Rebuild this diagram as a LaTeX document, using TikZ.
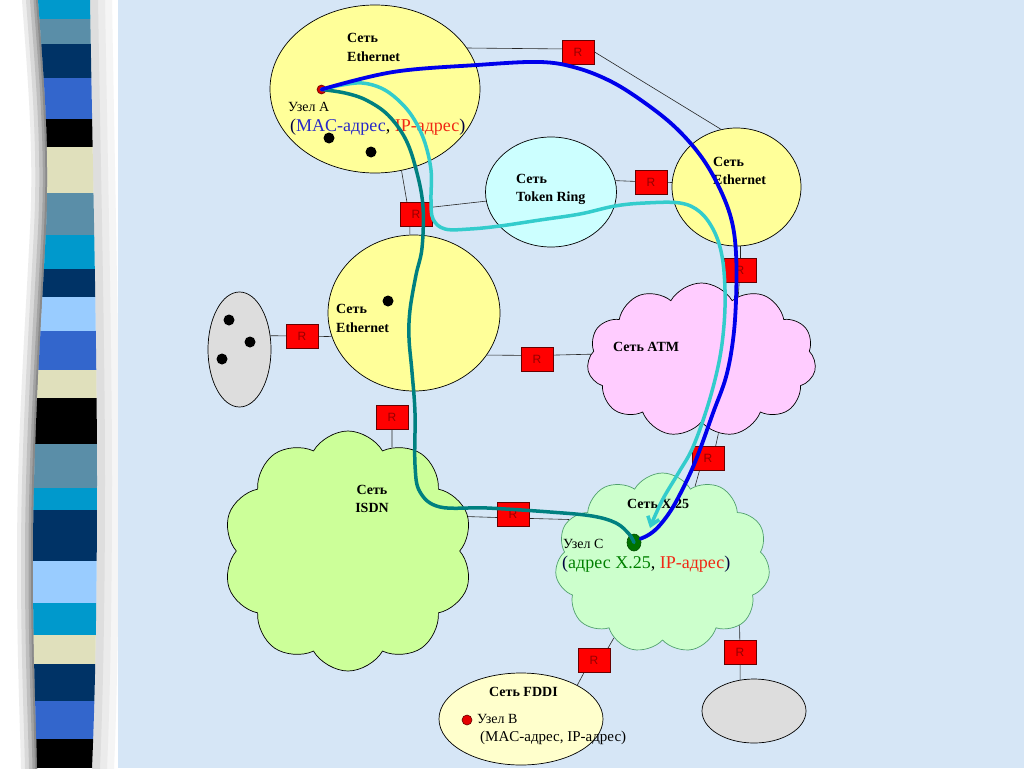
\documentclass[tikz,border=0pt]{standalone}
\usepackage{fontspec}
\setmainfont{Liberation Serif}
\newfontfamily\rsans{Liberation Sans}
\usetikzlibrary{shapes.geometric,shapes.symbols,arrows.meta}
\definecolor{bgblue}{RGB}{214,230,246}
\definecolor{ethyel}{RGB}{255,255,153}
\definecolor{trcyan}{RGB}{204,255,255}
\definecolor{atmpink}{RGB}{255,204,255}
\definecolor{isdngreen}{RGB}{204,255,153}
\definecolor{xgreen}{RGB}{204,255,204}
\definecolor{xedge}{RGB}{80,160,110}
\definecolor{fddiyel}{RGB}{255,255,204}
\definecolor{netgray}{RGB}{221,221,221}
\definecolor{sCyan}{RGB}{0,153,204}
\definecolor{sSteel}{RGB}{90,142,168}
\definecolor{sNavy}{RGB}{0,51,102}
\definecolor{sBlue}{RGB}{51,102,204}
\definecolor{sCream}{RGB}{224,224,188}
\definecolor{sLight}{RGB}{153,204,255}
\definecolor{pBlue}{RGB}{0,0,235}
\definecolor{pCyan}{RGB}{51,204,204}
\definecolor{pTeal}{RGB}{0,128,128}
\definecolor{macblue}{RGB}{40,40,200}
\definecolor{ipred}{RGB}{240,40,20}
\definecolor{x25green}{RGB}{0,128,0}
\definecolor{rtext}{RGB}{150,0,0}
\begin{document}
\begin{tikzpicture}[x=1pt,y=-1pt,
  net/.style={ellipse,draw=black,line width=0.7pt,inner sep=0pt},
  cloudnet/.style={cloud,cloud puffs=11,cloud puff arc=120,cloud ignores aspect,draw=black,line width=0.7pt,inner sep=0pt},
  rtr/.style={rectangle,draw=black!60!red,line width=0.6pt,fill=red,minimum width=32pt,minimum height=24pt,inner sep=0pt,font=\rsans\fontsize{12}{12}\selectfont,text=rtext},
  wire/.style={draw=black!85,line width=0.6pt},
  hostdot/.style={circle,fill=black,minimum size=11pt,inner sep=0pt},
  lbl/.style={anchor=base west,inner sep=0pt,font=\bfseries\fontsize{14}{16}\selectfont},
  txt/.style={anchor=base west,inner sep=0pt,font=\fontsize{14}{16}\selectfont},
  addr/.style={anchor=base west,inner sep=0pt,font=\fontsize{18}{20}\selectfont},
  route/.style={line width=3.5pt,line cap=round,line join=round}
]
\useasboundingbox (0,0) rectangle (1024,768);
% background
\fill[white] (0,0) rectangle (118,768);
% left shadow: strokes along the strip's left edge, clipped to the area left of it
\begin{scope}
  \clip (0,-5) -- (38,-5) -- (38,0) .. controls (44,80) and (50,150) .. (46,230) .. controls (41,330) and (33,440) .. (33,560) .. controls (33,660) and (36,720) .. (37,768) -- (37,773) -- (0,773) -- cycle;
  \draw[line width=32pt,color=black!7] (38,-20) -- (38,0) .. controls (44,80) and (50,150) .. (46,230) .. controls (41,330) and (33,440) .. (33,560) .. controls (33,660) and (36,720) .. (37,768) -- (37,790);
  \draw[line width=24pt,color=black!15] (38,-20) -- (38,0) .. controls (44,80) and (50,150) .. (46,230) .. controls (41,330) and (33,440) .. (33,560) .. controls (33,660) and (36,720) .. (37,768) -- (37,790);
  \draw[line width=16pt,color=black!25] (38,-20) -- (38,0) .. controls (44,80) and (50,150) .. (46,230) .. controls (41,330) and (33,440) .. (33,560) .. controls (33,660) and (36,720) .. (37,768) -- (37,790);
  \draw[line width=9pt,color=black!36] (38,-20) -- (38,0) .. controls (44,80) and (50,150) .. (46,230) .. controls (41,330) and (33,440) .. (33,560) .. controls (33,660) and (36,720) .. (37,768) -- (37,790);
  \draw[line width=4pt,color=black!46] (38,-20) -- (38,0) .. controls (44,80) and (50,150) .. (46,230) .. controls (41,330) and (33,440) .. (33,560) .. controls (33,660) and (36,720) .. (37,768) -- (37,790);
\end{scope}
% right shadow
\begin{scope}
  \clip (90,-5) -- (90,0) .. controls (93,180) and (97,350) .. (97,480) .. controls (97,600) and (95,700) .. (92,768) -- (92,773) -- (118,773) -- (118,-5) -- cycle;
  \draw[line width=44pt,color=black!4] (90,-20) -- (90,0) .. controls (93,180) and (97,350) .. (97,480) .. controls (97,600) and (95,700) .. (92,768) -- (92,790);
  \draw[line width=30pt,color=black!8] (90,-20) -- (90,0) .. controls (93,180) and (97,350) .. (97,480) .. controls (97,600) and (95,700) .. (92,768) -- (92,790);
  \draw[line width=16pt,color=black!13] (90,-20) -- (90,0) .. controls (93,180) and (97,350) .. (97,480) .. controls (97,600) and (95,700) .. (92,768) -- (92,790);
\end{scope}
\fill[bgblue] (118,0) rectangle (1024,768);
\begin{scope}
  \clip (38,0) .. controls (44,80) and (50,150) .. (46,230) .. controls (41,330) and (33,440) .. (33,560) .. controls (33,660) and (36,720) .. (37,768) -- (92,768) .. controls (95,700) and (97,600) .. (97,480) .. controls (97,350) and (93,180) .. (90,0) -- cycle;
  \foreach \a/\b/\c in {0/19/sCyan,19/44/sSteel,44/78/sNavy,78/119/sBlue,119/147/black,147/193/sCream,193/235/sSteel,235/269/sCyan,269/297/sNavy,297/331/sLight,331/370/sBlue,370/398/sCream,398/444/black,444/488/sSteel,488/510/sCyan,510/561/sNavy,561/603/sLight,603/635/sCyan,635/664/sCream,664/701/sNavy,701/739/sBlue,739/768/black}
    { \fill[\c] (0,\a) rectangle (120,\b); }
\end{scope}
% networks
\node[net,fill=ethyel,minimum width=210pt,minimum height=168pt] (eth1) at (375,89) {};
\node[net,fill=trcyan,minimum width=131pt,minimum height=110pt] (tr) at (551,192) {};
\node[net,fill=ethyel,minimum width=129pt,minimum height=118pt] (ethR) at (736.5,187) {};
\node[net,fill=ethyel,minimum width=172pt,minimum height=156pt] (ethM) at (414,313) {};
\node[net,fill=netgray,minimum width=63pt,minimum height=115pt] (gray1) at (239.5,349.5) {};
\node[cloudnet,fill=atmpink,minimum width=229pt,minimum height=154pt] (atm) at (701.5,360) {};
\node[cloudnet,fill=isdngreen,minimum width=250pt,minimum height=240pt,cloud puffs=10] (isdn) at (348,551) {};
\node[cloudnet,fill=xgreen,draw=xedge,minimum width=215pt,minimum height=180pt] (x25) at (662.5,563) {};
\node[net,fill=fddiyel,minimum width=164pt,minimum height=92pt] (fddi) at (521,719) {};
\node[net,fill=netgray,minimum width=104pt,minimum height=64pt] (gray2) at (754,711) {};
% router positions (used as wire ends)
\coordinate (r1) at (578,52);
\coordinate (r2) at (651,182);
\coordinate (r3) at (416,214);
\coordinate (r4) at (740,270);
\coordinate (r5) at (302,336);
\coordinate (r6) at (537,359.5);
\coordinate (r7) at (392,417);
\coordinate (r8) at (708,458);
\coordinate (r9) at (513,514);
\coordinate (r10) at (594,660);
\coordinate (r11) at (740,652);
% wires
\draw[wire] (eth1.24) -- ([shift={(-10,-3)}]r1);
\draw[wire] ([shift={(10,-4)}]r1) -- (ethR.105);
\draw[wire] (tr.10) -- (r2);
\draw[wire] (r2) -- (ethR.176);
\draw[wire] (eth1.-72) -- ([shift={(-7,0)}]r3);
\draw[wire] ([shift={(0,-5)}]r3) -- (tr.188);
\draw[wire] ([shift={(-6,0)}]r3) -- (ethM.93);
\draw[wire] (r4) -- (r4 |- ethR.south);
\draw[wire] (r4) -- (atm.60);
\draw[wire] (r5) -- (gray1.24);
\draw[wire] (r5) -- (ethM.196);
\draw[wire] ([shift={(0,-4)}]r6) -- (ethM.-30);
\draw[wire] ([shift={(0,-4)}]r6) -- (atm.177);
\draw[wire] (r7) -- (isdn.67);
\draw[wire] ([shift={(5,0)}]r8) -- (atm.-77);
\draw[wire] ([shift={(-5,0)}]r8) -- (x25.67);
\draw[wire] ([shift={(0,4)}]r9) -- (isdn.16);
\draw[wire] ([shift={(0,4)}]r9) -- (x25.155);
\draw[wire] ([shift={(10,-5)}]r10) -- (x25.237);
\draw[wire] ([shift={(-6,5)}]r10) -- (fddi.31);
\draw[wire] (r11) -- (x25.-39);
\draw[wire] (r11) -- (gray2.114);
% routers
\foreach \n in {r1,r2,r3,r4,r5,r6,r7,r8,r9,r10,r11}
  { \node[rtr] (\n box) at (\n) {R}; }
% host dots
\node[hostdot] (d1) at (329,138) {};
\node[hostdot] (d2) at (371,152) {};
\node[hostdot] (d3) at (388,301) {};
\node[hostdot] (d4) at (229,320) {};
\node[hostdot] (d5) at (250,342) {};
\node[hostdot] (d6) at (222,359) {};
% labels
\node[lbl] (t1a) at (347,43) {Сеть};
\node[lbl] (t1b) at (347,61) {Ethernet};
\node[txt] (tA) at (288,111) {Узел А};
\node[addr,text=black!75!blue] (tAaddr) at (290,131) {(\textcolor{macblue}{MAC-адрес}\textcolor{black}{,} \textcolor{ipred}{IP-адрес})};
\node[lbl] (t2a) at (516,183) {Сеть};
\node[lbl] (t2b) at (516,201) {Token Ring};
\node[lbl] (t3a) at (713,166) {Сеть};
\node[lbl] (t3b) at (713,184) {Ethernet};
\node[lbl] (t4a) at (336,313) {Сеть};
\node[lbl] (t4b) at (336,332) {Ethernet};
\node[lbl] (t5) at (613,351) {Сеть ATM};
\node[lbl,anchor=base] (t6a) at (372,494) {Сеть};
\node[lbl,anchor=base] (t6b) at (372,512) {ISDN};
\node[lbl] (t7) at (627,508) {Сеть X.25};
\node[txt] (tC) at (563,548) {Узел С};
\node[addr,text=black!75!blue] (tCaddr) at (562,568) {(\textcolor{x25green}{адрес X.25}\textcolor{black}{,} \textcolor{ipred}{IP-адрес})};
\node[lbl] (t8) at (489,696) {Сеть FDDI};
\node[txt] (tB) at (477,723) {Узел В};
\node[txt,font=\fontsize{15}{17}\selectfont] (tBaddr) at (480,741) {(MAC-адрес, IP-адрес)};
% hosts
\node[circle,fill=red!85!black,draw=red!40!black,line width=0.6pt,minimum size=9pt,inner sep=0pt] (nA) at (321.5,89.5) {};
\node[circle,fill=red!90!black,draw=red!40!black,line width=0.6pt,minimum size=10pt,inner sep=0pt] (nB) at (467,720) {};
\node[ellipse,fill=green!45!black,draw=black!70!green,line width=0.6pt,minimum width=14pt,minimum height=17pt,inner sep=0pt] (nC) at (634,542.5) {};
\coordinate (cend) at (650,528);
% routes
\draw[route,pTeal] plot[smooth,tension=0.6] coordinates {(nA.center) (345,93) (366,100) (388,115) (406,140) (417,173) (423,207) (422,248) (416,275) (410,310) (409,338) (412,372) (415,413) (415,465) (420,492) (440,507) (487,508) (550,512) (592,516) (616,523) (629,534) (nC.center)};
\draw[route,pCyan,-{Straight Barb[length=8pt,width=12pt]}] plot[smooth,tension=0.6] coordinates {(nA.center) (342,85) (362,83) (381,88) (397,99) (412,116) (424,140) (431,170) (431,200) (433,219) (445,229) (470,229) (500,226) (540,220) (580,214) (615,206) (645,203) (680,203) (700,212) (714,231) (722,256) (725,290) (724,325) (719,362) (708,405) (693,447) (679,472) (664,497) (654,518) (cend)};
\draw[route,pBlue,line width=3.8pt] plot[smooth,tension=0.6] coordinates {(nA.center) (393,72) (477,65) (540,62) (577,68) (612,82) (645,103) (675,127) (700,155) (718,185) (731,218) (736,253) (736,300) (733,340) (726,377) (713,413) (699,452) (688,478) (673,507) (660,525) (650,534) (nC.30)};
\end{tikzpicture}
\end{document}
